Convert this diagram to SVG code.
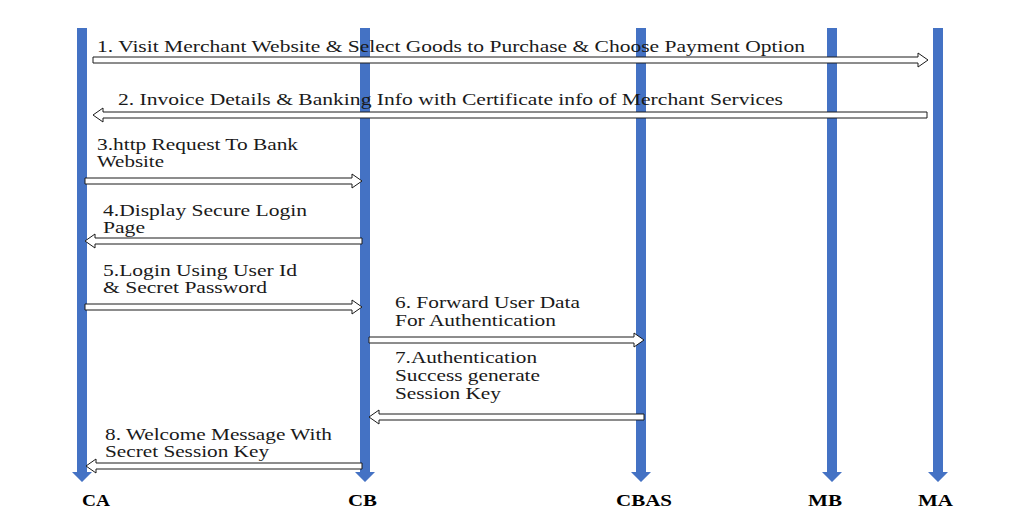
<svg xmlns="http://www.w3.org/2000/svg" width="1033" height="520" viewBox="0 0 1033 520">
<style>
.life{fill:#4472C4;}
.msg{fill:#ffffff;stroke:#1a1a1a;stroke-width:1;}
.t{font-family:"Liberation Serif","Times New Roman",serif;font-size:16px;fill:#1a1a1a;}
.lb{font-family:"Liberation Serif","Times New Roman",serif;font-size:17px;font-weight:bold;fill:#000;}
</style>
<rect width="1033" height="520" fill="#ffffff"/>
<g id="CA"><path class="life" d="M77,28 H87 V472 H92 L82,482 L72,472 H77 Z"/><text class="lb" x="82" y="506" textLength="28" lengthAdjust="spacingAndGlyphs">CA</text></g>
<g id="CB"><path class="life" d="M360,28 H370 V472 H375 L365,482 L355,472 H360 Z"/><text class="lb" x="348" y="506" textLength="29" lengthAdjust="spacingAndGlyphs">CB</text></g>
<g id="CBAS"><path class="life" d="M636,28 H646 V472 H651 L641,482 L631,472 H636 Z"/><text class="lb" x="616" y="506" textLength="56" lengthAdjust="spacingAndGlyphs">CBAS</text></g>
<g id="MB"><path class="life" d="M827,28 H837 V472 H842 L832,482 L822,472 H827 Z"/><text class="lb" x="808" y="506" textLength="34" lengthAdjust="spacingAndGlyphs">MB</text></g>
<g id="MA"><path class="life" d="M933,28 H943 V472 H948 L938,482 L928,472 H933 Z"/><text class="lb" x="918" y="506" textLength="35" lengthAdjust="spacingAndGlyphs">MA</text></g>
<g id="connectors">
<path class="msg" d="M93,57 H918 V53 L928,60 L918,67 V63 H93 Z"/>
<path class="msg" d="M927,112 H103 V108 L93,115 L103,122 V118 H927 Z"/>
<path class="msg" d="M85,178 H352 V174 L362,181 L352,188 V184 H85 Z"/>
<path class="msg" d="M362,238 H95 V234 L85,241 L95,248 V244 H362 Z"/>
<path class="msg" d="M85,304 H352 V300 L362,307 L352,314 V310 H85 Z"/>
<path class="msg" d="M369,337 H634 V333 L644,340 L634,347 V343 H369 Z"/>
<path class="msg" d="M644,414 H379 V410 L369,417 L379,424 V420 H644 Z"/>
<path class="msg" d="M362,463 H96 V459 L86,466 L96,473 V469 H362 Z"/>
</g>
<g id="labels">
<text class="t" x="97" y="52" textLength="708" lengthAdjust="spacingAndGlyphs">1. Visit Merchant Website &amp; Select Goods to Purchase &amp; Choose Payment Option</text>
<text class="t" x="118" y="105" textLength="665" lengthAdjust="spacingAndGlyphs">2. Invoice Details &amp; Banking Info with Certificate info of Merchant Services</text>
<text class="t" x="97" y="150" textLength="201" lengthAdjust="spacingAndGlyphs">3.http Request To Bank</text>
<text class="t" x="97" y="167" textLength="67" lengthAdjust="spacingAndGlyphs">Website</text>
<text class="t" x="103" y="216" textLength="204" lengthAdjust="spacingAndGlyphs">4.Display Secure Login</text>
<text class="t" x="103" y="233" textLength="42" lengthAdjust="spacingAndGlyphs">Page</text>
<text class="t" x="103" y="276" textLength="194" lengthAdjust="spacingAndGlyphs">5.Login Using User Id</text>
<text class="t" x="103" y="293" textLength="164" lengthAdjust="spacingAndGlyphs">&amp; Secret Password</text>
<text class="t" x="395" y="308" textLength="185" lengthAdjust="spacingAndGlyphs">6. Forward User Data</text>
<text class="t" x="395" y="326" textLength="161" lengthAdjust="spacingAndGlyphs">For Authentication</text>
<text class="t" x="395" y="363" textLength="142" lengthAdjust="spacingAndGlyphs">7.Authentication</text>
<text class="t" x="395" y="381" textLength="145" lengthAdjust="spacingAndGlyphs">Success generate</text>
<text class="t" x="395" y="399" textLength="106" lengthAdjust="spacingAndGlyphs">Session Key</text>
<text class="t" x="105" y="440" textLength="227" lengthAdjust="spacingAndGlyphs">8. Welcome Message With</text>
<text class="t" x="105" y="457" textLength="164" lengthAdjust="spacingAndGlyphs">Secret Session Key</text>
</g>
</svg>
